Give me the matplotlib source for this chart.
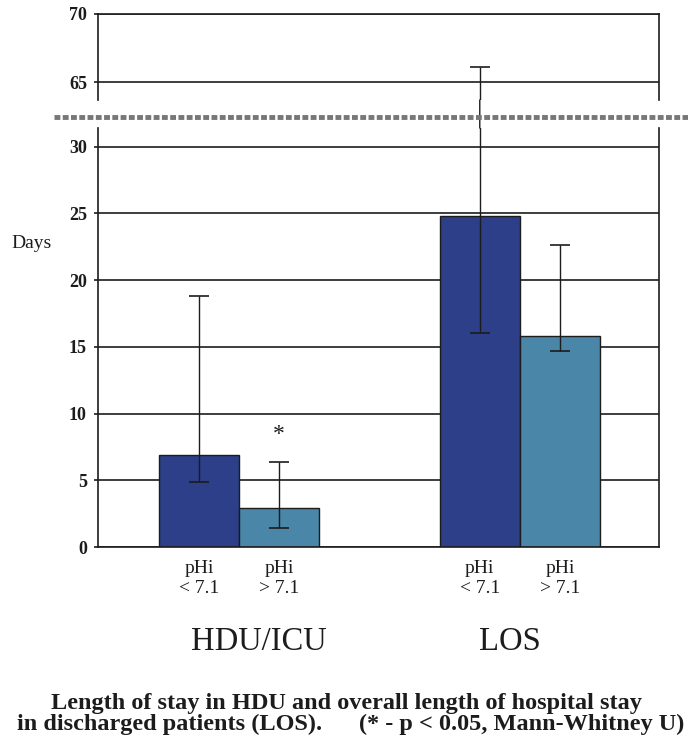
import numpy as np
import matplotlib.pyplot as plt
from matplotlib.patches import ConnectionPatch
from matplotlib.lines import Line2D

groups = ["HDU/ICU", "LOS"]
bar_labels = ["pHi\n< 7.1", "pHi\n> 7.1"]

# pHi < 7.1
low_ph = [6.9, 24.8]
low_ph_min = [4.9, 16.0]
low_ph_max = [18.8, 66.1]
# pHi > 7.1
high_ph = [2.9, 15.8]
high_ph_min = [1.4, 14.7]
high_ph_max = [6.4, 22.6]

caption1 = "Length of stay in HDU and overall length of hospital stay"
caption2 = "in discharged patients (LOS).      (* - p < 0.05, Mann-Whitney U)"

plt.rcParams['font.family'] = ['Liberation Serif', 'DejaVu Serif']

dark = '#2c3f88'
light = '#4a86a8'
ink = '#1c1c1c'

W, H = 688, 745
fig = plt.figure(figsize=(W / 100, H / 100), dpi=100)


def box(l, t, r, b):
    return [l / W, 1 - b / H, (r - l) / W, (b - t) / H]


ax_top = fig.add_axes(box(98, 14, 659, 100))
ax_bot = fig.add_axes(box(98, 128, 659, 547))

x = np.arange(len(groups))
w = 0.286
low_err = [np.subtract(low_ph, low_ph_min), np.subtract(low_ph_max, low_ph)]
high_err = [np.subtract(high_ph, high_ph_min), np.subtract(high_ph_max, high_ph)]

for ax in (ax_top, ax_bot):
    ax.bar(x - w / 2, low_ph, w, color=dark, edgecolor=ink, linewidth=1, zorder=2)
    ax.bar(x + w / 2, high_ph, w, color=light, edgecolor=ink, linewidth=1, zorder=2)
    ax.errorbar(x - w / 2, low_ph, yerr=low_err, fmt='none', ecolor=ink,
                elinewidth=1, capsize=7, capthick=1.2, zorder=3)
    ax.errorbar(x + w / 2, high_ph, yerr=high_err, fmt='none', ecolor=ink,
                elinewidth=1, capsize=7, capthick=1.2, zorder=3)
    ax.set_xlim(-0.502, 1.495)
    ax.yaxis.grid(True, color=ink, linewidth=1.2)
    ax.set_axisbelow(True)
    for s in ax.spines.values():
        s.set_linewidth(1.2)
        s.set_color(ink)
    ax.tick_params(axis='y', direction='out', length=3, width=1.2, pad=5,
                   labelsize=13, colors=ink)

ax_top.set_ylim(63.68, 70)
ax_top.set_yticks([65, 70])
ax_top.spines['bottom'].set_visible(False)
ax_top.tick_params(axis='x', bottom=False, labelbottom=False)

ax_bot.set_ylim(0, 31.4)
ax_bot.set_yticks(np.arange(0, 31, 5))
ax_bot.spines['top'].set_visible(False)
ax_bot.set_xticks(np.concatenate([x - w / 2, x + w / 2]))
ax_bot.set_xticklabels(bar_labels[:1] * len(x) + bar_labels[1:] * len(x))
ax_bot.tick_params(axis='x', length=0, pad=9.5, labelsize=14, colors=ink)

for ax in (ax_top, ax_bot):
    for lab in ax.get_yticklabels():
        lab.set_fontweight('bold')

# error bar continues through the axis break
con = ConnectionPatch(xyA=(x[1] - w / 2, ax_bot.get_ylim()[1]), coordsA=ax_bot.transData,
                      xyB=(x[1] - w / 2, ax_top.get_ylim()[0]), coordsB=ax_top.transData,
                      color=ink, linewidth=1)
fig.add_artist(con)

# break line
fig.add_artist(Line2D([54 / W, 1], [1 - 117 / H, 1 - 117 / H], transform=fig.transFigure,
                      color='#777777', linewidth=3.5, linestyle=(0, (1.2, 0.5))))

# significance marker
ax_bot.text(x[0] + w / 2, 8.4, "*", ha='center', va='center', fontsize=17, color=ink)

fig.text(32 / W, 1 - 243 / H, "Days", ha='center', va='center', fontsize=14, color=ink)
fig.text(259 / W, 1 - 650 / H, groups[0], ha='center', va='baseline', fontsize=23.5, color=ink)
fig.text(510 / W, 1 - 650 / H, groups[1], ha='center', va='baseline', fontsize=23.5, color=ink)

fig.text(346 / W, 1 - 709 / H, caption1, ha='center', va='baseline', fontsize=17.5,
         fontweight='bold', color=ink)
fig.text(17 / W, 1 - 730 / H, caption2, ha='left', va='baseline', fontsize=17.5,
         fontweight='bold', color=ink)

fig.savefig('out.png', dpi=100, facecolor='white')
